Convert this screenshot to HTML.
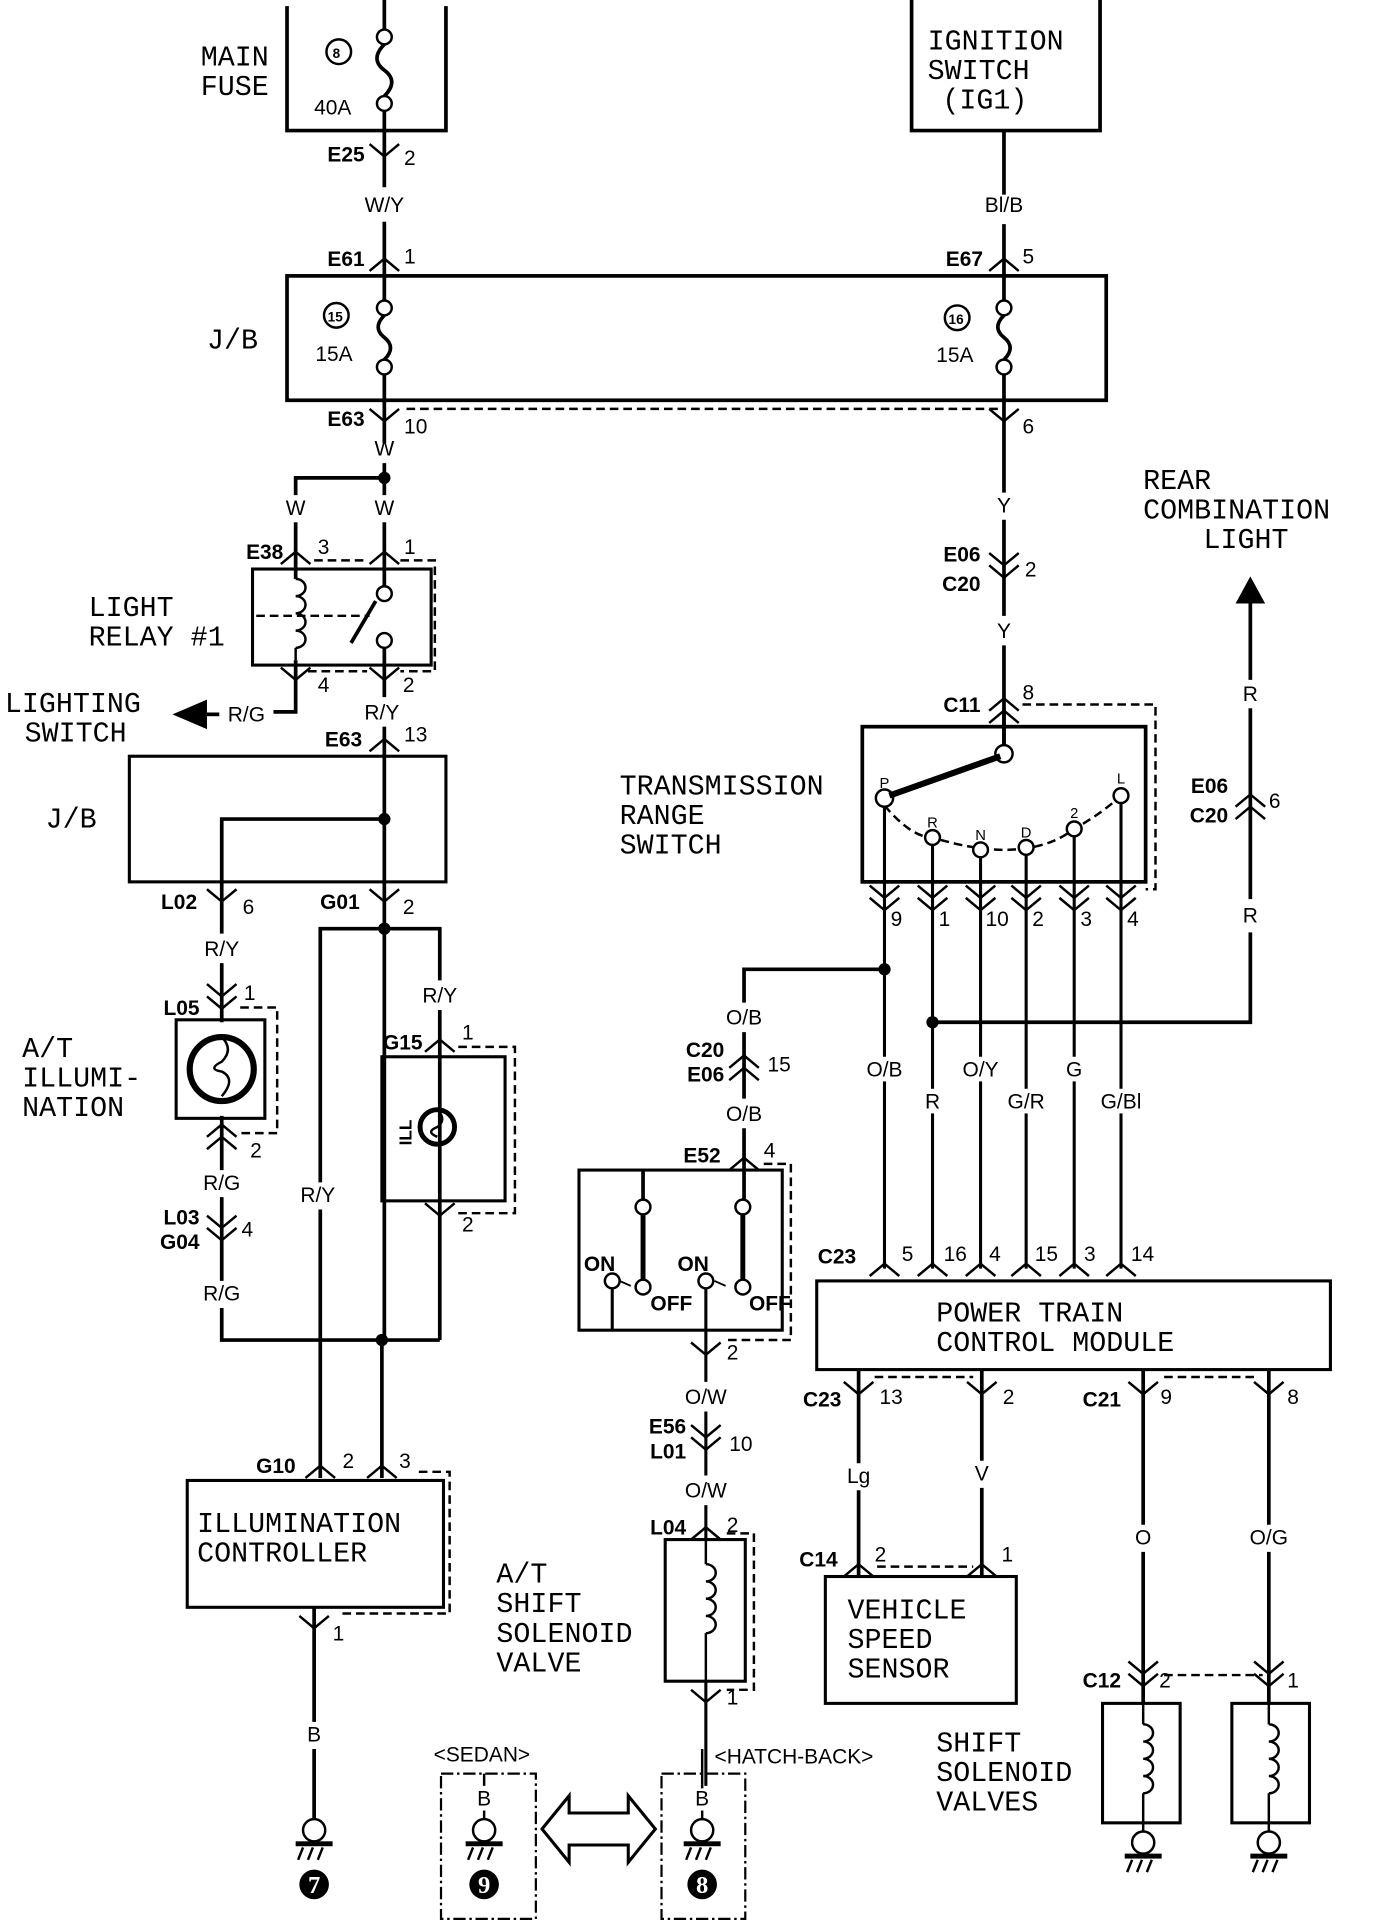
<!DOCTYPE html>
<html><head><meta charset="utf-8"><style>
html,body{margin:0;padding:0;background:#fff}
svg{display:block}
.L{font-family:"Liberation Mono",monospace;font-size:23px;fill:#000}
.c{font-family:"Liberation Sans",sans-serif;font-weight:bold;font-size:17px;fill:#000}
.n{font-family:"Liberation Sans",sans-serif;font-size:17px;fill:#000}
.w{font-family:"Liberation Sans",sans-serif;font-size:17px;fill:#000}
</style></head><body>
<svg width="1376" height="1930" viewBox="0 0 1117 1567" preserveAspectRatio="none" xmlns="http://www.w3.org/2000/svg">
<defs>
<path id="dn" d="M-12,-8 L0,2 L12,-8" fill="none" stroke="#000" stroke-width="2"/>
<path id="up" d="M-12,8 L0,-2 L12,8" fill="none" stroke="#000" stroke-width="2"/>
<g id="dd"><use href="#dn" y="-5"/><use href="#dn" y="5"/></g>
<g id="uu"><use href="#up" y="-5"/><use href="#up" y="5"/></g>
<g id="gnd"><line x1="0" y1="0" x2="0" y2="8" stroke="#000" stroke-width="2"/><circle cx="0" cy="16" r="9" fill="#fff" stroke="#000" stroke-width="2"/><rect x="-15" y="25" width="30" height="4" fill="#000"/><path d="M-9,30 l-4,10 M-1,30 l-4,10 M7,30 l-4,10" stroke="#000" stroke-width="2"/></g>
<path id="coil" d="M0,0 a8,7 0 1 1 0,14 a8,7 0 1 1 0,14 a8,7 0 1 1 0,14 a8,7 0 1 1 0,14" fill="none" stroke="#000" stroke-width="2"/>
</defs>
<g fill="none" stroke="#000" stroke-width="3">
<path d="M233,5 V106 H362 V5"/>
<path d="M312,0 V24 M312,36 Q300,48 312,57 Q324,66 312,78 M312,90 V123"/>
<path d="M312,123 V152 M312,180 V224"/>
<rect x="233" y="224" width="665" height="101"/>
<path d="M312,224 V244 M312,256 Q302,266 312,274 Q322,282 312,292 M312,304 V325"/>
<path d="M815,224 V244 M815,256 Q805,266 815,274 Q825,282 815,292 M815,304 V325"/>
<path d="M740,0 V106 H893 V0"/>
<path d="M815,106 V158 M815,182 V224"/>
<path d="M312,325 V360 M312,376 V402"/>
<path d="M312,388 H240 V402"/>
<path d="M240,424 V470 M312,424 V476"/>
<path d="M815,325 V400 M815,422 V500 M815,524 V606"/>
<rect x="205" y="462" width="145" height="78" stroke-width="2.5"/>
<path d="M312,526 V566 M240,536 V578 H222"/>
<path d="M312,590 V680 M312,680 V1088" />
<rect x="105" y="614" width="257" height="102" stroke-width="2.5"/>
<path d="M312,665 H180 V758 M180,782 V830"/>
<path d="M312,754 H260 V960 M260,982 V1200 M312,754 H357 V796 M357,820 V1088"/>
<path d="M180,906 V950 M180,972 V1040 M180,1062 V1088 H357"/>
<path d="M310,1088 V1200"/>
<rect x="143" y="828" width="72" height="80" stroke-width="2.5"/>
<circle cx="180" cy="868" r="26" stroke-width="5"/>
<rect x="310" y="858" width="100" height="117" stroke-width="2.5"/>
<circle cx="355" cy="915" r="14" stroke-width="4"/>
<rect x="152" y="1202" width="208" height="103" stroke-width="2.5"/>
<path d="M255,1305 V1398 M255,1420 V1478"/>
<rect x="700" y="590" width="230" height="126" stroke-width="3"/>
<path d="M815,575 V606"/>
<path d="M718,654 V1030 M757,686 V1030 M796,696 V1030 M833,694 V1030 M872,679 V1030 M910,652 V1030" stroke-width="2.5"/>
<path d="M718,787 H604 V814 M604,838 V892 M604,916 V980"/>
<path d="M757,830 H1015 V757 M1015,730 V575 M1015,552 V490"/>
<rect x="470" y="950" width="165" height="130" stroke-width="2.5"/>
<path d="M522,950 V974 M522,986 V1040" />
<path d="M497,1046 V1080 M573,1046 V1122 M573,1146 V1198 M573,1222 V1250 M573,1365 V1450" stroke-width="2.5"/>
<path d="M522,986 V1040 M603,986 V1040" stroke-width="4"/>
<rect x="540" y="1250" width="65" height="115" stroke-width="2.5"/>
<rect x="663" y="1040" width="417" height="72" stroke-width="2.5"/>
<path d="M697,1112 V1188 M697,1210 V1280 M797,1112 V1186 M797,1208 V1280 M928,1112 V1238 M928,1260 V1383 M1030,1112 V1238 M1030,1260 V1383"/>
<rect x="670" y="1280" width="155" height="103" stroke-width="2.5"/>
<rect x="895" y="1383" width="63" height="97" stroke-width="2.5"/>
<rect x="1000" y="1383" width="63" height="97" stroke-width="2.5"/>
</g>
<!-- label gaps on TRS wires -->
<g fill="#fff">
<rect x="700" y="858" width="36" height="20"/><rect x="746" y="884" width="22" height="20"/><rect x="778" y="858" width="36" height="20"/><rect x="815" y="884" width="36" height="20"/><rect x="860" y="858" width="24" height="20"/><rect x="888" y="884" width="44" height="20"/>
</g>
<g fill="none" stroke="#000" stroke-width="2" stroke-dasharray="7,4">
<path d="M330,332 H812"/>
<path d="M325,455 H353 V545 H325 M255,455 H298 M250,545 H298"/>
<path d="M208,500 H300"/>
<path d="M195,818 H225 V920 H195"/>
<path d="M372,850 H418 V985 H372"/>
<path d="M340,1195 H365 V1310 H275"/>
<path d="M830,572 H938 V722 H930"/>
<path d="M620,945 H642 V1088 H590"/>
<path d="M590,1245 H612 V1372 H590"/>
<path d="M710,1118 H790 M945,1118 H1020"/>
<path d="M712,1272 H790"/>
<path d="M945,1360 H1025"/>
<path d="M718,654 Q740,680 757,680 Q790,690 815,690 Q850,690 872,673 Q895,660 910,646"/>
</g>
<g fill="none" stroke="#000" stroke-width="1.8" stroke-dasharray="10,3,2,3">
<rect x="358" y="1440" width="77" height="118"/>
<rect x="537" y="1440" width="68" height="118"/>
</g>
<g fill="#fff" stroke="#000" stroke-width="2">
<circle cx="312" cy="30" r="6"/><circle cx="312" cy="84" r="6"/>
<circle cx="312" cy="250" r="6"/><circle cx="312" cy="298" r="6"/>
<circle cx="815" cy="250" r="6"/><circle cx="815" cy="298" r="6"/>
<circle cx="312" cy="482" r="6"/><circle cx="312" cy="520" r="6"/>
<circle cx="815" cy="612" r="7"/>
<circle cx="718" cy="648" r="7"/><circle cx="757" cy="680" r="6"/><circle cx="796" cy="690" r="6"/><circle cx="833" cy="688" r="6"/><circle cx="872" cy="673" r="6"/><circle cx="910" cy="646" r="6"/>
<circle cx="522" cy="980" r="6"/><circle cx="522" cy="1045" r="6"/><circle cx="603" cy="980" r="6"/><circle cx="603" cy="1045" r="6"/>
<circle cx="497" cy="1040" r="6"/><circle cx="573" cy="1040" r="6"/>
<circle cx="275" cy="42" r="10"/><circle cx="273" cy="256" r="10"/><circle cx="777" cy="258" r="10"/>
</g>
<g stroke="#000" stroke-width="5"><line x1="812" y1="614" x2="722" y2="646"/><line x1="305" y1="488" x2="285" y2="522" stroke-width="3"/></g>
<g stroke="#000" stroke-width="1.5"><line x1="503" y1="1040" x2="512" y2="1044"/><line x1="580" y1="1040" x2="589" y2="1044"/></g>
<use href="#coil" x="240" y="470"/>
<use href="#coil" x="573" y="1270"/>
<use href="#coil" x="928" y="1400"/>
<use href="#coil" x="1030" y="1400"/>
<g stroke="#000" stroke-width="2" fill="none"><path d="M573,1250 V1270 M573,1326 V1365 M928,1383 V1400 M928,1456 V1480 M1030,1383 V1400 M1030,1456 V1480 M240,526 V536"/>
<path d="M180,842 q10,10 0,20 q-12,6 0,8 q12,6 0,20 M355,901 q8,8 0,14 q-10,4 0,8"/></g>
<g fill="#000"><circle cx="312" cy="388" r="5"/><circle cx="312" cy="665" r="5"/><circle cx="312" cy="754" r="5"/><circle cx="310" cy="1088" r="5"/><circle cx="718" cy="787" r="5"/><circle cx="757" cy="830" r="5"/></g>
<use href="#dn" x="312" y="125"/>
<use href="#up" x="312" y="212"/><use href="#up" x="815" y="212"/>
<use href="#dn" x="312" y="340"/><use href="#dn" x="815" y="340"/>
<use href="#dd" x="815" y="462"/>
<use href="#uu" x="815" y="574"/>
<use href="#up" x="240" y="450"/><use href="#up" x="312" y="450"/>
<use href="#dn" x="240" y="550"/><use href="#dn" x="312" y="550"/>
<use href="#up" x="312" y="602"/>
<use href="#dn" x="180" y="730"/><use href="#dn" x="312" y="730"/>
<use href="#dd" x="180" y="812"/>
<use href="#uu" x="180" y="920"/>
<use href="#dd" x="180" y="1000"/>
<use href="#up" x="357" y="846"/>
<use href="#dn" x="357" y="985"/>
<use href="#up" x="260" y="1192"/><use href="#up" x="310" y="1192"/>
<use href="#dn" x="255" y="1320"/>
<use href="#dd" x="718" y="732"/><use href="#dd" x="757" y="732"/><use href="#dd" x="796" y="732"/><use href="#dd" x="833" y="732"/><use href="#dd" x="872" y="732"/><use href="#dd" x="910" y="732"/>
<use href="#uu" x="604" y="864"/>
<use href="#up" x="604" y="942"/>
<use href="#dn" x="573" y="1098"/>
<use href="#dd" x="573" y="1170"/>
<use href="#up" x="573" y="1242"/>
<use href="#dn" x="573" y="1380"/>
<use href="#uu" x="1015" y="652"/>
<use href="#up" x="718" y="1028"/><use href="#up" x="757" y="1028"/><use href="#up" x="796" y="1028"/><use href="#up" x="833" y="1028"/><use href="#up" x="872" y="1028"/><use href="#up" x="910" y="1028"/>
<use href="#dn" x="697" y="1130"/><use href="#dn" x="797" y="1130"/><use href="#dn" x="928" y="1130"/><use href="#dn" x="1030" y="1130"/>
<use href="#up" x="697" y="1272"/><use href="#up" x="797" y="1272"/>
<use href="#dd" x="928" y="1362"/><use href="#dd" x="1030" y="1362"/>
<use href="#gnd" x="255" y="1470"/>
<use href="#gnd" x="393" y="1470"/>
<use href="#gnd" x="570" y="1470"/>
<use href="#gnd" x="928" y="1480"/>
<use href="#gnd" x="1030" y="1480"/>
<path d="M393,1440 V1450 M570,1420 V1452" stroke="#000" stroke-width="2"/>
<g fill="#000"><circle cx="255" cy="1530" r="12"/><circle cx="393" cy="1530" r="12"/><circle cx="570" cy="1530" r="12"/></g>
<g font-family="Liberation Serif,serif" font-weight="bold" font-size="20" fill="#fff" text-anchor="middle"><text x="255" y="1537">7</text><text x="393" y="1537">9</text><text x="570" y="1537">8</text></g>
<path d="M140,580 L168,568 V592 Z" fill="#000"/><line x1="168" y1="580" x2="178" y2="580" stroke="#000" stroke-width="3"/>
<path d="M1015,468 L1003,490 H1027 Z" fill="#000"/>
<path d="M440,1485 L462,1458 V1472 H510 V1458 L532,1485 L510,1512 V1498 H462 V1512 Z" fill="#fff" stroke="#000" stroke-width="2.5"/>
<g class="L">
<text x="163" y="53">MAIN</text><text x="163" y="77">FUSE</text>
<text x="168" y="283">J/B</text>
<text x="753" y="40">IGNITION</text><text x="753" y="64">SWITCH</text><text x="765" y="88">(IG1)</text>
<text x="72" y="500">LIGHT</text><text x="72" y="524">RELAY #1</text>
<text x="4" y="578">LIGHTING</text><text x="20" y="602">SWITCH</text>
<text x="37" y="672">J/B</text>
<text x="18" y="858">A/T</text><text x="18" y="882">ILLUMI-</text><text x="18" y="906">NATION</text>
<text x="160" y="1244">ILLUMINATION</text><text x="160" y="1268">CONTROLLER</text>
<text x="503" y="645">TRANSMISSION</text><text x="503" y="669">RANGE</text><text x="503" y="693">SWITCH</text>
<text x="928" y="397">REAR</text><text x="928" y="421">COMBINATION</text><text x="977" y="445">LIGHT</text>
<text x="760" y="1073">POWER TRAIN</text><text x="760" y="1097">CONTROL MODULE</text>
<text x="403" y="1285">A/T</text><text x="403" y="1309">SHIFT</text><text x="403" y="1333">SOLENOID</text><text x="403" y="1357">VALVE</text>
<text x="688" y="1314">VEHICLE</text><text x="688" y="1338">SPEED</text><text x="688" y="1362">SENSOR</text>
<text x="760" y="1422">SHIFT</text><text x="760" y="1446">SOLENOID</text><text x="760" y="1470">VALVES</text>
</g>
<g class="c" text-anchor="end">
<text x="296" y="131">E25</text><text x="296" y="216">E61</text><text x="296" y="346">E63</text>
<text x="798" y="216">E67</text>
<text x="796" y="456">E06</text><text x="796" y="480">C20</text>
<text x="796" y="578">C11</text>
<text x="230" y="454">E38</text>
<text x="294" y="606">E63</text>
<text x="160" y="738">L02</text><text x="292" y="738">G01</text>
<text x="162" y="824">L05</text>
<text x="162" y="994">L03</text><text x="162" y="1014">G04</text>
<text x="343" y="852">G15</text>
<text x="240" y="1196">G10</text>
<text x="997" y="644">E06</text><text x="997" y="668">C20</text>
<text x="588" y="858">C20</text><text x="588" y="878">E06</text>
<text x="585" y="944">E52</text>
<text x="557" y="1164">E56</text><text x="557" y="1184">L01</text>
<text x="557" y="1246">L04</text>
<text x="695" y="1026">C23</text>
<text x="683" y="1142">C23</text>
<text x="910" y="1142">C21</text>
<text x="680" y="1272">C14</text>
<text x="910" y="1370">C12</text>
</g>
<g class="n">
<text x="255" y="93">40A</text><text x="256" y="293">15A</text><text x="760" y="294">15A</text>
<text x="270" y="47" font-size="11" font-weight="bold">8</text><text x="266" y="261" font-size="11" font-weight="bold">15</text><text x="770" y="263" font-size="11" font-weight="bold">16</text>
<text x="328" y="134">2</text><text x="328" y="214">1</text><text x="830" y="214">5</text>
<text x="328" y="352">10</text><text x="830" y="352">6</text>
<text x="832" y="468">2</text><text x="830" y="568">8</text>
<text x="258" y="450">3</text><text x="328" y="450">1</text>
<text x="258" y="562">4</text><text x="327" y="562">2</text>
<text x="328" y="602">13</text>
<text x="197" y="742">6</text><text x="327" y="742">2</text>
<text x="198" y="812">1</text><text x="203" y="940">2</text><text x="196" y="1004">4</text>
<text x="375" y="844">1</text><text x="375" y="1000">2</text>
<text x="278" y="1192">2</text><text x="324" y="1192">3</text><text x="270" y="1332">1</text>
<text x="723" y="752">9</text><text x="762" y="752">1</text><text x="800" y="752">10</text><text x="838" y="752">2</text><text x="877" y="752">3</text><text x="915" y="752">4</text>
<text x="1030" y="656">6</text><text x="623" y="870">15</text><text x="620" y="940">4</text>
<text x="590" y="1104">2</text><text x="592" y="1178">10</text><text x="590" y="1244">2</text><text x="590" y="1384">1</text>
<text x="732" y="1024">5</text><text x="766" y="1024">16</text><text x="803" y="1024">4</text><text x="840" y="1024">15</text><text x="880" y="1024">3</text><text x="918" y="1024">14</text>
<text x="714" y="1140">13</text><text x="814" y="1140">2</text><text x="942" y="1140">9</text><text x="1045" y="1140">8</text>
<text x="710" y="1268">2</text><text x="813" y="1268">1</text>
<text x="941" y="1370">2</text><text x="1045" y="1370">1</text>
<text x="352" y="1430">&lt;SEDAN&gt;</text><text x="580" y="1432">&lt;HATCH-BACK&gt;</text>
</g>
<g class="w" text-anchor="middle">
<text x="312" y="172">W/Y</text><text x="815" y="172">Bl/B</text>
<text x="312" y="370">W</text><text x="240" y="418">W</text><text x="312" y="418">W</text>
<text x="815" y="416">Y</text><text x="815" y="518">Y</text>
<text x="200" y="586">R/G</text><text x="310" y="584">R/Y</text>
<text x="180" y="776">R/Y</text><text x="357" y="814">R/Y</text>
<text x="180" y="966">R/G</text><text x="180" y="1056">R/G</text><text x="258" y="976">R/Y</text>
<text x="255" y="1414">B</text><text x="393" y="1466">B</text><text x="570" y="1466">B</text>
<text x="1015" y="569">R</text><text x="1015" y="749">R</text>
<text x="604" y="832">O/B</text><text x="604" y="910">O/B</text>
<text x="573" y="1140">O/W</text><text x="573" y="1216">O/W</text>
<text x="718" y="874">O/B</text><text x="757" y="900">R</text><text x="796" y="874">O/Y</text><text x="833" y="900">G/R</text><text x="872" y="874">G</text><text x="910" y="900">G/Bl</text>
<text x="697" y="1204">Lg</text><text x="797" y="1202">V</text>
<text x="928" y="1254">O</text><text x="1030" y="1254">O/G</text>
<text x="718" y="640" font-size="12">P</text><text x="757" y="672" font-size="12">R</text><text x="796" y="682" font-size="12">N</text><text x="833" y="680" font-size="12">D</text><text x="872" y="664" font-size="12">2</text><text x="910" y="636" font-size="12">L</text>
</g>
<g class="c" font-size="12">
<text x="474" y="1032">ON</text><text x="550" y="1032">ON</text><text x="528" y="1064">OFF</text><text x="608" y="1064">OFF</text>
<text x="0" y="0" transform="translate(334,930) rotate(-90)" font-size="14">ILL</text>
</g>
</svg>
</body></html>
